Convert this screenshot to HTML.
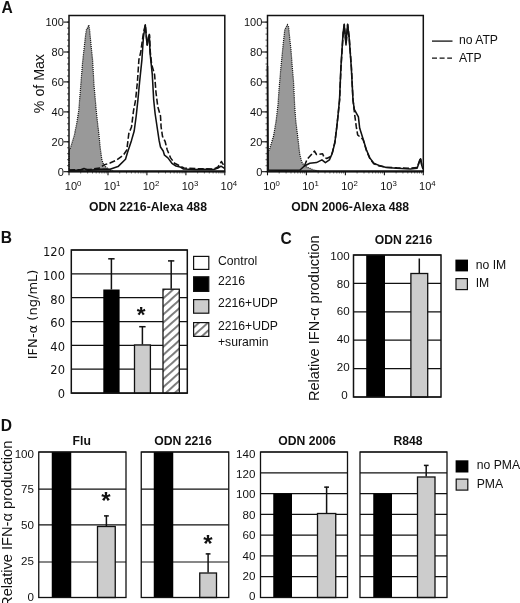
<!DOCTYPE html>
<html lang="en"><head><meta charset="utf-8"><title>Figure</title>
<style>html,body{margin:0;padding:0;background:#fff;}svg{display:block;}text{fill:#111;}</style></head><body>
<svg width="520" height="603" viewBox="0 0 520 603">
<defs><pattern id="hatch" patternUnits="userSpaceOnUse" width="6" height="6" patternTransform="rotate(-42)"><rect x="0" y="0" width="6" height="6" fill="#fff"/><rect x="0" y="0" width="6" height="1.9" fill="#777"/></pattern></defs>
<rect x="0" y="0" width="520" height="603" fill="#fff"/>
<text x="1.5" y="13" font-size="15.6" text-anchor="start" font-weight="bold" font-family='"Liberation Sans", Arial, sans-serif'>A</text>
<text x="0.8" y="243" font-size="15.6" text-anchor="start" font-weight="bold" font-family='"Liberation Sans", Arial, sans-serif'>B</text>
<text x="280.6" y="243.6" font-size="15.6" text-anchor="start" font-weight="bold" font-family='"Liberation Sans", Arial, sans-serif'>C</text>
<text x="0.8" y="430.5" font-size="15.6" text-anchor="start" font-weight="bold" font-family='"Liberation Sans", Arial, sans-serif'>D</text>
<path d="M69.0,171.5 L69.0,151.0 L70.6,147.5 L74.4,135.0 L76.9,122.5 L78.8,110.0 L82.6,62.0 L84.2,47.5 L85.6,35.0 L86.6,28.8 L87.8,27.8 L88.8,25.0 L89.6,30.0 L90.1,35.0 L91.3,47.5 L92.6,60.0 L94.0,85.0 L96.2,110.0 L97.5,122.5 L99.0,135.0 L100.2,147.5 L101.9,160.0 L103.8,165.0 L108.0,169.0 L113.8,171.5 Z" fill="#999"/>
<path d="M69.0,171.5 L69.0,151.0 L70.6,147.5 L74.4,135.0 L76.9,122.5 L78.8,110.0 L82.6,62.0 L84.2,47.5 L85.6,35.0 L86.6,28.8 L87.8,27.8 L88.8,25.0 L89.6,30.0 L90.1,35.0 L91.3,47.5 L92.6,60.0 L94.0,85.0 L96.2,110.0 L97.5,122.5 L99.0,135.0 L100.2,147.5 L101.9,160.0 L103.8,165.0 L108.0,169.0 L113.8,171.5" fill="none" stroke="#111" stroke-width="1.2" stroke-dasharray="1.1 1"/>
<path d="M69.0,170.5 L80.0,170.0 L84.0,168.5 L88.0,170.2 L98.0,169.5 L104.0,169.0 L110.0,169.3 L118.0,166.6 L125.5,159.2 L127.5,152.5 L131.5,140.4 L134.2,131.0 L136.2,116.0 L137.9,100.0 L139.6,82.0 L141.9,59.8 L143.4,37.4 L145.3,24.7 L146.2,36.0 L147.1,44.9 L148.4,38.0 L149.3,34.4 L150.0,52.3 L152.3,74.7 L153.7,100.0 L155.1,113.5 L157.1,127.0 L159.1,140.4 L160.5,147.0 L163.2,151.0 L164.5,155.2 L167.9,157.9 L171.9,163.3 L176.0,166.0 L180.0,166.9 L183.5,169.0 L195.0,169.6 L205.0,169.3 L214.4,169.4 L218.0,168.0 L221.0,166.2 L224.5,168.3" fill="none" stroke="#111" stroke-width="1.55" stroke-linejoin="round"/>
<path d="M69.0,170.0 L90.0,169.5 L100.0,168.0 L103.8,165.0 L110.0,163.0 L116.7,160.0 L123.5,155.0 L126.8,150.0 L128.8,133.6 L131.5,127.0 L133.5,110.8 L135.6,100.0 L137.4,82.0 L138.9,59.8 L140.7,52.3 L143.4,33.0 L145.3,25.0 L146.4,36.0 L147.3,45.0 L148.5,38.0 L149.5,35.0 L150.3,52.0 L151.6,64.3 L154.6,74.7 L156.0,92.6 L157.8,106.7 L160.5,116.0 L161.1,127.0 L162.5,136.3 L165.2,141.7 L167.2,149.8 L170.6,157.9 L174.6,163.3 L178.6,165.3 L184.0,168.0 L195.0,168.6 L205.0,168.8 L214.0,169.0 L218.0,167.0 L221.5,161.5 L224.5,167.0" fill="none" stroke="#111" stroke-width="1.55" stroke-dasharray="6 2.4" stroke-linejoin="round"/>
<rect x="69" y="15.5" width="155.8" height="156.2" fill="none" stroke="#111" stroke-width="1.5"/>
<line x1="69" y1="171.29999999999998" x2="224.8" y2="171.29999999999998" stroke="#111" stroke-width="1.9"/>
<line x1="63.5" y1="22.1" x2="69" y2="22.1" stroke="#111" stroke-width="1.1"/>
<text x="63.8" y="25.9" font-size="11" text-anchor="end" font-weight="normal" font-family='"Liberation Sans", Arial, sans-serif'>100</text>
<line x1="63.5" y1="52.0" x2="69" y2="52.0" stroke="#111" stroke-width="1.1"/>
<text x="63.8" y="55.8" font-size="11" text-anchor="end" font-weight="normal" font-family='"Liberation Sans", Arial, sans-serif'>80</text>
<line x1="63.5" y1="81.9" x2="69" y2="81.9" stroke="#111" stroke-width="1.1"/>
<text x="63.8" y="85.7" font-size="11" text-anchor="end" font-weight="normal" font-family='"Liberation Sans", Arial, sans-serif'>60</text>
<line x1="63.5" y1="111.9" x2="69" y2="111.9" stroke="#111" stroke-width="1.1"/>
<text x="63.8" y="115.7" font-size="11" text-anchor="end" font-weight="normal" font-family='"Liberation Sans", Arial, sans-serif'>40</text>
<line x1="63.5" y1="141.8" x2="69" y2="141.8" stroke="#111" stroke-width="1.1"/>
<text x="63.8" y="145.6" font-size="11" text-anchor="end" font-weight="normal" font-family='"Liberation Sans", Arial, sans-serif'>20</text>
<line x1="63.5" y1="171.7" x2="69" y2="171.7" stroke="#111" stroke-width="1.1"/>
<text x="63.8" y="175.5" font-size="11" text-anchor="end" font-weight="normal" font-family='"Liberation Sans", Arial, sans-serif'>0</text>
<line x1="67" y1="22.1" x2="69" y2="22.1" stroke="#111" stroke-width="0.7"/>
<line x1="67" y1="28.1" x2="69" y2="28.1" stroke="#111" stroke-width="0.7"/>
<line x1="67" y1="34.1" x2="69" y2="34.1" stroke="#111" stroke-width="0.7"/>
<line x1="67" y1="40.1" x2="69" y2="40.1" stroke="#111" stroke-width="0.7"/>
<line x1="67" y1="46.0" x2="69" y2="46.0" stroke="#111" stroke-width="0.7"/>
<line x1="67" y1="52.0" x2="69" y2="52.0" stroke="#111" stroke-width="0.7"/>
<line x1="67" y1="58.0" x2="69" y2="58.0" stroke="#111" stroke-width="0.7"/>
<line x1="67" y1="64.0" x2="69" y2="64.0" stroke="#111" stroke-width="0.7"/>
<line x1="67" y1="70.0" x2="69" y2="70.0" stroke="#111" stroke-width="0.7"/>
<line x1="67" y1="76.0" x2="69" y2="76.0" stroke="#111" stroke-width="0.7"/>
<line x1="67" y1="81.9" x2="69" y2="81.9" stroke="#111" stroke-width="0.7"/>
<line x1="67" y1="87.9" x2="69" y2="87.9" stroke="#111" stroke-width="0.7"/>
<line x1="67" y1="93.9" x2="69" y2="93.9" stroke="#111" stroke-width="0.7"/>
<line x1="67" y1="99.9" x2="69" y2="99.9" stroke="#111" stroke-width="0.7"/>
<line x1="67" y1="105.9" x2="69" y2="105.9" stroke="#111" stroke-width="0.7"/>
<line x1="67" y1="111.9" x2="69" y2="111.9" stroke="#111" stroke-width="0.7"/>
<line x1="67" y1="117.8" x2="69" y2="117.8" stroke="#111" stroke-width="0.7"/>
<line x1="67" y1="123.8" x2="69" y2="123.8" stroke="#111" stroke-width="0.7"/>
<line x1="67" y1="129.8" x2="69" y2="129.8" stroke="#111" stroke-width="0.7"/>
<line x1="67" y1="135.8" x2="69" y2="135.8" stroke="#111" stroke-width="0.7"/>
<line x1="67" y1="141.8" x2="69" y2="141.8" stroke="#111" stroke-width="0.7"/>
<line x1="67" y1="147.8" x2="69" y2="147.8" stroke="#111" stroke-width="0.7"/>
<line x1="67" y1="153.7" x2="69" y2="153.7" stroke="#111" stroke-width="0.7"/>
<line x1="67" y1="159.7" x2="69" y2="159.7" stroke="#111" stroke-width="0.7"/>
<line x1="67" y1="165.7" x2="69" y2="165.7" stroke="#111" stroke-width="0.7"/>
<line x1="67" y1="171.7" x2="69" y2="171.7" stroke="#111" stroke-width="0.7"/>
<line x1="69.0" y1="171.7" x2="69.0" y2="175.29999999999998" stroke="#111" stroke-width="1.1"/>
<text x="64.8" y="189.9" font-size="11" font-family='"Liberation Sans", Arial, sans-serif'>10<tspan dy="-4.2" font-size="7.8">0</tspan></text>
<line x1="80.7" y1="171.7" x2="80.7" y2="173.5" stroke="#111" stroke-width="0.6"/>
<line x1="87.6" y1="171.7" x2="87.6" y2="173.5" stroke="#111" stroke-width="0.6"/>
<line x1="92.5" y1="171.7" x2="92.5" y2="173.5" stroke="#111" stroke-width="0.6"/>
<line x1="96.2" y1="171.7" x2="96.2" y2="173.5" stroke="#111" stroke-width="0.6"/>
<line x1="99.3" y1="171.7" x2="99.3" y2="173.5" stroke="#111" stroke-width="0.6"/>
<line x1="101.9" y1="171.7" x2="101.9" y2="173.5" stroke="#111" stroke-width="0.6"/>
<line x1="104.2" y1="171.7" x2="104.2" y2="173.5" stroke="#111" stroke-width="0.6"/>
<line x1="106.2" y1="171.7" x2="106.2" y2="173.5" stroke="#111" stroke-width="0.6"/>
<line x1="108.0" y1="171.7" x2="108.0" y2="175.29999999999998" stroke="#111" stroke-width="1.1"/>
<text x="103.8" y="189.9" font-size="11" font-family='"Liberation Sans", Arial, sans-serif'>10<tspan dy="-4.2" font-size="7.8">1</tspan></text>
<line x1="119.7" y1="171.7" x2="119.7" y2="173.5" stroke="#111" stroke-width="0.6"/>
<line x1="126.5" y1="171.7" x2="126.5" y2="173.5" stroke="#111" stroke-width="0.6"/>
<line x1="131.4" y1="171.7" x2="131.4" y2="173.5" stroke="#111" stroke-width="0.6"/>
<line x1="135.2" y1="171.7" x2="135.2" y2="173.5" stroke="#111" stroke-width="0.6"/>
<line x1="138.3" y1="171.7" x2="138.3" y2="173.5" stroke="#111" stroke-width="0.6"/>
<line x1="140.9" y1="171.7" x2="140.9" y2="173.5" stroke="#111" stroke-width="0.6"/>
<line x1="143.1" y1="171.7" x2="143.1" y2="173.5" stroke="#111" stroke-width="0.6"/>
<line x1="145.1" y1="171.7" x2="145.1" y2="173.5" stroke="#111" stroke-width="0.6"/>
<line x1="146.9" y1="171.7" x2="146.9" y2="175.29999999999998" stroke="#111" stroke-width="1.1"/>
<text x="142.7" y="189.9" font-size="11" font-family='"Liberation Sans", Arial, sans-serif'>10<tspan dy="-4.2" font-size="7.8">2</tspan></text>
<line x1="158.6" y1="171.7" x2="158.6" y2="173.5" stroke="#111" stroke-width="0.6"/>
<line x1="165.5" y1="171.7" x2="165.5" y2="173.5" stroke="#111" stroke-width="0.6"/>
<line x1="170.4" y1="171.7" x2="170.4" y2="173.5" stroke="#111" stroke-width="0.6"/>
<line x1="174.1" y1="171.7" x2="174.1" y2="173.5" stroke="#111" stroke-width="0.6"/>
<line x1="177.2" y1="171.7" x2="177.2" y2="173.5" stroke="#111" stroke-width="0.6"/>
<line x1="179.8" y1="171.7" x2="179.8" y2="173.5" stroke="#111" stroke-width="0.6"/>
<line x1="182.1" y1="171.7" x2="182.1" y2="173.5" stroke="#111" stroke-width="0.6"/>
<line x1="184.1" y1="171.7" x2="184.1" y2="173.5" stroke="#111" stroke-width="0.6"/>
<line x1="185.9" y1="171.7" x2="185.9" y2="175.29999999999998" stroke="#111" stroke-width="1.1"/>
<text x="181.7" y="189.9" font-size="11" font-family='"Liberation Sans", Arial, sans-serif'>10<tspan dy="-4.2" font-size="7.8">3</tspan></text>
<line x1="197.6" y1="171.7" x2="197.6" y2="173.5" stroke="#111" stroke-width="0.6"/>
<line x1="204.4" y1="171.7" x2="204.4" y2="173.5" stroke="#111" stroke-width="0.6"/>
<line x1="209.3" y1="171.7" x2="209.3" y2="173.5" stroke="#111" stroke-width="0.6"/>
<line x1="213.1" y1="171.7" x2="213.1" y2="173.5" stroke="#111" stroke-width="0.6"/>
<line x1="216.2" y1="171.7" x2="216.2" y2="173.5" stroke="#111" stroke-width="0.6"/>
<line x1="218.8" y1="171.7" x2="218.8" y2="173.5" stroke="#111" stroke-width="0.6"/>
<line x1="221.0" y1="171.7" x2="221.0" y2="173.5" stroke="#111" stroke-width="0.6"/>
<line x1="223.0" y1="171.7" x2="223.0" y2="173.5" stroke="#111" stroke-width="0.6"/>
<line x1="224.8" y1="171.7" x2="224.8" y2="175.29999999999998" stroke="#111" stroke-width="1.1"/>
<text x="220.6" y="189.9" font-size="11" font-family='"Liberation Sans", Arial, sans-serif'>10<tspan dy="-4.2" font-size="7.8">4</tspan></text>
<text x="148" y="211" font-size="12.2" text-anchor="middle" font-weight="bold" font-family='"Liberation Sans", Arial, sans-serif'>ODN 2216-Alexa 488</text>
<path d="M267.5,171.5 L267.5,152.0 L269.4,149.8 L273.5,136.3 L276.2,120.2 L278.0,104.5 L279.0,89.6 L280.9,67.2 L283.4,42.0 L284.8,29.5 L286.2,27.0 L287.4,24.7 L288.6,27.0 L289.8,39.0 L291.0,50.0 L292.3,67.2 L293.6,82.2 L294.6,104.5 L295.7,120.2 L297.7,136.3 L299.7,153.8 L301.7,161.9 L304.4,166.0 L313.8,170.0 L320.0,171.5 Z" fill="#999"/>
<path d="M267.5,171.5 L267.5,152.0 L269.4,149.8 L273.5,136.3 L276.2,120.2 L278.0,104.5 L279.0,89.6 L280.9,67.2 L283.4,42.0 L284.8,29.5 L286.2,27.0 L287.4,24.7 L288.6,27.0 L289.8,39.0 L291.0,50.0 L292.3,67.2 L293.6,82.2 L294.6,104.5 L295.7,120.2 L297.7,136.3 L299.7,153.8 L301.7,161.9 L304.4,166.0 L313.8,170.0 L320.0,171.5" fill="none" stroke="#111" stroke-width="1.2" stroke-dasharray="1.1 1"/>
<path d="M267.5,66.0 L267.9,120.0 L268.2,170.0 L280.0,170.3 L300.0,170.0 L304.4,166.0 L309.8,163.3 L316.5,162.6 L321.9,159.9 L325.4,162.6 L329.4,159.9 L332.1,153.8 L334.8,143.1 L336.8,126.9 L338.2,113.5 L339.5,100.0 L340.9,67.2 L343.1,32.9 L344.2,24.3 L345.2,36.0 L346.0,44.9 L346.8,34.0 L347.6,24.3 L349.1,37.4 L351.3,67.2 L353.0,100.0 L354.3,109.4 L358.4,116.8 L359.7,128.3 L363.1,139.0 L366.4,149.8 L369.8,157.9 L373.8,163.3 L379.4,165.6 L386.2,167.6 L396.9,168.3 L410.4,168.9 L417.1,168.3 L420.5,158.8 L421.8,165.6 L423.0,169.0" fill="none" stroke="#111" stroke-width="1.55" stroke-linejoin="round"/>
<path d="M304.4,166.0 L307.1,159.2 L314.5,151.1 L316.5,154.5 L322.6,153.8 L324.0,157.2 L326.7,158.5 L330.8,156.5 L332.5,152.0 L334.9,142.0 L336.9,126.0 L338.3,113.0 L339.6,100.0 L341.0,67.0 L343.2,33.0 L344.3,24.5 L345.3,36.0 L346.1,44.0 L346.9,34.0 L347.7,24.5 L349.2,37.4 L351.4,67.2 L353.0,100.0 L354.7,114.8 L356.3,126.9 L357.7,135.0 L363.1,139.5 L366.4,150.5 L369.8,158.5 L373.8,163.8 L379.4,166.0 L386.2,167.2 L396.9,167.8 L410.4,168.2 L417.1,167.5 L420.5,158.0 L421.8,165.0 L423.0,168.5" fill="none" stroke="#111" stroke-width="1.55" stroke-dasharray="6 2.4" stroke-linejoin="round"/>
<rect x="267.5" y="15.5" width="155.8" height="156.2" fill="none" stroke="#111" stroke-width="1.5"/>
<line x1="267.5" y1="171.29999999999998" x2="423.3" y2="171.29999999999998" stroke="#111" stroke-width="1.9"/>
<line x1="262.0" y1="22.1" x2="267.5" y2="22.1" stroke="#111" stroke-width="1.1"/>
<text x="262.3" y="25.9" font-size="11" text-anchor="end" font-weight="normal" font-family='"Liberation Sans", Arial, sans-serif'>100</text>
<line x1="262.0" y1="52.0" x2="267.5" y2="52.0" stroke="#111" stroke-width="1.1"/>
<text x="262.3" y="55.8" font-size="11" text-anchor="end" font-weight="normal" font-family='"Liberation Sans", Arial, sans-serif'>80</text>
<line x1="262.0" y1="81.9" x2="267.5" y2="81.9" stroke="#111" stroke-width="1.1"/>
<text x="262.3" y="85.7" font-size="11" text-anchor="end" font-weight="normal" font-family='"Liberation Sans", Arial, sans-serif'>60</text>
<line x1="262.0" y1="111.9" x2="267.5" y2="111.9" stroke="#111" stroke-width="1.1"/>
<text x="262.3" y="115.7" font-size="11" text-anchor="end" font-weight="normal" font-family='"Liberation Sans", Arial, sans-serif'>40</text>
<line x1="262.0" y1="141.8" x2="267.5" y2="141.8" stroke="#111" stroke-width="1.1"/>
<text x="262.3" y="145.6" font-size="11" text-anchor="end" font-weight="normal" font-family='"Liberation Sans", Arial, sans-serif'>20</text>
<line x1="262.0" y1="171.7" x2="267.5" y2="171.7" stroke="#111" stroke-width="1.1"/>
<text x="262.3" y="175.5" font-size="11" text-anchor="end" font-weight="normal" font-family='"Liberation Sans", Arial, sans-serif'>0</text>
<line x1="265.5" y1="22.1" x2="267.5" y2="22.1" stroke="#111" stroke-width="0.7"/>
<line x1="265.5" y1="28.1" x2="267.5" y2="28.1" stroke="#111" stroke-width="0.7"/>
<line x1="265.5" y1="34.1" x2="267.5" y2="34.1" stroke="#111" stroke-width="0.7"/>
<line x1="265.5" y1="40.1" x2="267.5" y2="40.1" stroke="#111" stroke-width="0.7"/>
<line x1="265.5" y1="46.0" x2="267.5" y2="46.0" stroke="#111" stroke-width="0.7"/>
<line x1="265.5" y1="52.0" x2="267.5" y2="52.0" stroke="#111" stroke-width="0.7"/>
<line x1="265.5" y1="58.0" x2="267.5" y2="58.0" stroke="#111" stroke-width="0.7"/>
<line x1="265.5" y1="64.0" x2="267.5" y2="64.0" stroke="#111" stroke-width="0.7"/>
<line x1="265.5" y1="70.0" x2="267.5" y2="70.0" stroke="#111" stroke-width="0.7"/>
<line x1="265.5" y1="76.0" x2="267.5" y2="76.0" stroke="#111" stroke-width="0.7"/>
<line x1="265.5" y1="81.9" x2="267.5" y2="81.9" stroke="#111" stroke-width="0.7"/>
<line x1="265.5" y1="87.9" x2="267.5" y2="87.9" stroke="#111" stroke-width="0.7"/>
<line x1="265.5" y1="93.9" x2="267.5" y2="93.9" stroke="#111" stroke-width="0.7"/>
<line x1="265.5" y1="99.9" x2="267.5" y2="99.9" stroke="#111" stroke-width="0.7"/>
<line x1="265.5" y1="105.9" x2="267.5" y2="105.9" stroke="#111" stroke-width="0.7"/>
<line x1="265.5" y1="111.9" x2="267.5" y2="111.9" stroke="#111" stroke-width="0.7"/>
<line x1="265.5" y1="117.8" x2="267.5" y2="117.8" stroke="#111" stroke-width="0.7"/>
<line x1="265.5" y1="123.8" x2="267.5" y2="123.8" stroke="#111" stroke-width="0.7"/>
<line x1="265.5" y1="129.8" x2="267.5" y2="129.8" stroke="#111" stroke-width="0.7"/>
<line x1="265.5" y1="135.8" x2="267.5" y2="135.8" stroke="#111" stroke-width="0.7"/>
<line x1="265.5" y1="141.8" x2="267.5" y2="141.8" stroke="#111" stroke-width="0.7"/>
<line x1="265.5" y1="147.8" x2="267.5" y2="147.8" stroke="#111" stroke-width="0.7"/>
<line x1="265.5" y1="153.7" x2="267.5" y2="153.7" stroke="#111" stroke-width="0.7"/>
<line x1="265.5" y1="159.7" x2="267.5" y2="159.7" stroke="#111" stroke-width="0.7"/>
<line x1="265.5" y1="165.7" x2="267.5" y2="165.7" stroke="#111" stroke-width="0.7"/>
<line x1="265.5" y1="171.7" x2="267.5" y2="171.7" stroke="#111" stroke-width="0.7"/>
<line x1="267.5" y1="171.7" x2="267.5" y2="175.29999999999998" stroke="#111" stroke-width="1.1"/>
<text x="263.3" y="189.9" font-size="11" font-family='"Liberation Sans", Arial, sans-serif'>10<tspan dy="-4.2" font-size="7.8">0</tspan></text>
<line x1="279.2" y1="171.7" x2="279.2" y2="173.5" stroke="#111" stroke-width="0.6"/>
<line x1="286.1" y1="171.7" x2="286.1" y2="173.5" stroke="#111" stroke-width="0.6"/>
<line x1="291.0" y1="171.7" x2="291.0" y2="173.5" stroke="#111" stroke-width="0.6"/>
<line x1="294.7" y1="171.7" x2="294.7" y2="173.5" stroke="#111" stroke-width="0.6"/>
<line x1="297.8" y1="171.7" x2="297.8" y2="173.5" stroke="#111" stroke-width="0.6"/>
<line x1="300.4" y1="171.7" x2="300.4" y2="173.5" stroke="#111" stroke-width="0.6"/>
<line x1="302.7" y1="171.7" x2="302.7" y2="173.5" stroke="#111" stroke-width="0.6"/>
<line x1="304.7" y1="171.7" x2="304.7" y2="173.5" stroke="#111" stroke-width="0.6"/>
<line x1="306.4" y1="171.7" x2="306.4" y2="175.29999999999998" stroke="#111" stroke-width="1.1"/>
<text x="302.2" y="189.9" font-size="11" font-family='"Liberation Sans", Arial, sans-serif'>10<tspan dy="-4.2" font-size="7.8">1</tspan></text>
<line x1="318.2" y1="171.7" x2="318.2" y2="173.5" stroke="#111" stroke-width="0.6"/>
<line x1="325.0" y1="171.7" x2="325.0" y2="173.5" stroke="#111" stroke-width="0.6"/>
<line x1="329.9" y1="171.7" x2="329.9" y2="173.5" stroke="#111" stroke-width="0.6"/>
<line x1="333.7" y1="171.7" x2="333.7" y2="173.5" stroke="#111" stroke-width="0.6"/>
<line x1="336.8" y1="171.7" x2="336.8" y2="173.5" stroke="#111" stroke-width="0.6"/>
<line x1="339.4" y1="171.7" x2="339.4" y2="173.5" stroke="#111" stroke-width="0.6"/>
<line x1="341.6" y1="171.7" x2="341.6" y2="173.5" stroke="#111" stroke-width="0.6"/>
<line x1="343.6" y1="171.7" x2="343.6" y2="173.5" stroke="#111" stroke-width="0.6"/>
<line x1="345.4" y1="171.7" x2="345.4" y2="175.29999999999998" stroke="#111" stroke-width="1.1"/>
<text x="341.2" y="189.9" font-size="11" font-family='"Liberation Sans", Arial, sans-serif'>10<tspan dy="-4.2" font-size="7.8">2</tspan></text>
<line x1="357.1" y1="171.7" x2="357.1" y2="173.5" stroke="#111" stroke-width="0.6"/>
<line x1="364.0" y1="171.7" x2="364.0" y2="173.5" stroke="#111" stroke-width="0.6"/>
<line x1="368.9" y1="171.7" x2="368.9" y2="173.5" stroke="#111" stroke-width="0.6"/>
<line x1="372.6" y1="171.7" x2="372.6" y2="173.5" stroke="#111" stroke-width="0.6"/>
<line x1="375.7" y1="171.7" x2="375.7" y2="173.5" stroke="#111" stroke-width="0.6"/>
<line x1="378.3" y1="171.7" x2="378.3" y2="173.5" stroke="#111" stroke-width="0.6"/>
<line x1="380.6" y1="171.7" x2="380.6" y2="173.5" stroke="#111" stroke-width="0.6"/>
<line x1="382.6" y1="171.7" x2="382.6" y2="173.5" stroke="#111" stroke-width="0.6"/>
<line x1="384.4" y1="171.7" x2="384.4" y2="175.29999999999998" stroke="#111" stroke-width="1.1"/>
<text x="380.2" y="189.9" font-size="11" font-family='"Liberation Sans", Arial, sans-serif'>10<tspan dy="-4.2" font-size="7.8">3</tspan></text>
<line x1="396.1" y1="171.7" x2="396.1" y2="173.5" stroke="#111" stroke-width="0.6"/>
<line x1="402.9" y1="171.7" x2="402.9" y2="173.5" stroke="#111" stroke-width="0.6"/>
<line x1="407.8" y1="171.7" x2="407.8" y2="173.5" stroke="#111" stroke-width="0.6"/>
<line x1="411.6" y1="171.7" x2="411.6" y2="173.5" stroke="#111" stroke-width="0.6"/>
<line x1="414.7" y1="171.7" x2="414.7" y2="173.5" stroke="#111" stroke-width="0.6"/>
<line x1="417.3" y1="171.7" x2="417.3" y2="173.5" stroke="#111" stroke-width="0.6"/>
<line x1="419.5" y1="171.7" x2="419.5" y2="173.5" stroke="#111" stroke-width="0.6"/>
<line x1="421.5" y1="171.7" x2="421.5" y2="173.5" stroke="#111" stroke-width="0.6"/>
<line x1="423.3" y1="171.7" x2="423.3" y2="175.29999999999998" stroke="#111" stroke-width="1.1"/>
<text x="419.1" y="189.9" font-size="11" font-family='"Liberation Sans", Arial, sans-serif'>10<tspan dy="-4.2" font-size="7.8">4</tspan></text>
<text x="350.2" y="211" font-size="12.2" text-anchor="middle" font-weight="bold" font-family='"Liberation Sans", Arial, sans-serif'>ODN 2006-Alexa 488</text>
<text x="44.5" y="83.6" font-size="14.2" text-anchor="middle" font-weight="normal" font-family='"Liberation Sans", Arial, sans-serif' transform="rotate(-90 44.5 83.6)">% of Max</text>
<line x1="432" y1="41.1" x2="452.5" y2="41.1" stroke="#111" stroke-width="1.3"/>
<line x1="432" y1="58.2" x2="452" y2="58.2" stroke="#111" stroke-width="1.3" stroke-dasharray="5 2.6"/>
<text x="458.9" y="43.8" font-size="12.2" text-anchor="start" font-weight="normal" font-family='"Liberation Sans", Arial, sans-serif'>no ATP</text>
<text x="458.9" y="62" font-size="12.2" text-anchor="start" font-weight="normal" font-family='"Liberation Sans", Arial, sans-serif'>ATP</text>
<line x1="71.3" y1="250.0" x2="187.3" y2="250.0" stroke="#111" stroke-width="1.2"/>
<line x1="71.3" y1="273.9" x2="187.3" y2="273.9" stroke="#111" stroke-width="1.2"/>
<line x1="71.3" y1="297.7" x2="187.3" y2="297.7" stroke="#111" stroke-width="1.2"/>
<line x1="71.3" y1="321.6" x2="187.3" y2="321.6" stroke="#111" stroke-width="1.2"/>
<line x1="71.3" y1="345.4" x2="187.3" y2="345.4" stroke="#111" stroke-width="1.2"/>
<line x1="71.3" y1="369.2" x2="187.3" y2="369.2" stroke="#111" stroke-width="1.2"/>
<line x1="71.3" y1="393.1" x2="187.3" y2="393.1" stroke="#111" stroke-width="1.2"/>
<line x1="111.4" y1="258.4" x2="111.4" y2="289.5" stroke="#111" stroke-width="1.5"/>
<line x1="108.2" y1="258.79999999999995" x2="114.6" y2="258.79999999999995" stroke="#111" stroke-width="1.5"/>
<rect x="103.3" y="289.5" width="16.30" height="103.60" fill="#000"/>
<line x1="142.4" y1="326.3" x2="142.4" y2="344.5" stroke="#111" stroke-width="1.5"/>
<line x1="139.2" y1="326.7" x2="145.6" y2="326.7" stroke="#111" stroke-width="1.5"/>
<rect x="134.5" y="345.0" width="15.90" height="48.10" fill="#ccc" stroke="#111" stroke-width="1.3"/>
<line x1="171.2" y1="260.5" x2="171.2" y2="288.7" stroke="#111" stroke-width="1.5"/>
<line x1="168.0" y1="260.9" x2="174.3" y2="260.9" stroke="#111" stroke-width="1.5"/>
<rect x="163.0" y="289.2" width="16.30" height="103.90" fill="url(#hatch)" stroke="#111" stroke-width="1.3"/>
<rect x="71.3" y="250" width="116.00000000000001" height="143.10000000000002" fill="none" stroke="#111" stroke-width="1.5"/>
<text x="65" y="256.4" font-size="11.5" text-anchor="end" font-weight="normal" font-family='"DejaVu Sans", Verdana, sans-serif'>120</text>
<text x="65" y="280.0" font-size="11.5" text-anchor="end" font-weight="normal" font-family='"DejaVu Sans", Verdana, sans-serif'>100</text>
<text x="65" y="303.6" font-size="11.5" text-anchor="end" font-weight="normal" font-family='"DejaVu Sans", Verdana, sans-serif'>80</text>
<text x="65" y="327.2" font-size="11.5" text-anchor="end" font-weight="normal" font-family='"DejaVu Sans", Verdana, sans-serif'>60</text>
<text x="65" y="350.8" font-size="11.5" text-anchor="end" font-weight="normal" font-family='"DejaVu Sans", Verdana, sans-serif'>40</text>
<text x="65" y="374.4" font-size="11.5" text-anchor="end" font-weight="normal" font-family='"DejaVu Sans", Verdana, sans-serif'>20</text>
<text x="65" y="398.0" font-size="11.5" text-anchor="end" font-weight="normal" font-family='"DejaVu Sans", Verdana, sans-serif'>0</text>
<text x="37.2" y="314.4" font-size="13.1" text-anchor="middle" font-family='"DejaVu Sans", Verdana, sans-serif' transform="rotate(-90 37.2 314.4)" textLength="89.7" lengthAdjust="spacingAndGlyphs">IFN-α (ng/mL)</text>
<text x="141.2" y="322.1" font-size="22.5" text-anchor="middle" font-weight="bold" font-family='"Liberation Sans", Arial, sans-serif'>*</text>
<rect x="193.6" y="256.40000000000003" width="15.2" height="13.0" fill="#fff" stroke="#111" stroke-width="1.2"/>
<rect x="193.6" y="276.8" width="15.2" height="14.6" fill="#000" stroke="#111" stroke-width="1.2"/>
<rect x="193.6" y="299.6" width="15.2" height="13.6" fill="#ccc" stroke="#111" stroke-width="1.2"/>
<rect x="193.6" y="322.6" width="15.2" height="13.8" fill="url(#hatch)" stroke="#111" stroke-width="1.2"/>
<text x="218" y="264.6" font-size="12.2" text-anchor="start" font-weight="normal" font-family='"Liberation Sans", Arial, sans-serif'>Control</text>
<text x="218" y="285.2" font-size="12.2" text-anchor="start" font-weight="normal" font-family='"Liberation Sans", Arial, sans-serif'>2216</text>
<text x="218" y="307.4" font-size="12.2" text-anchor="start" font-weight="normal" font-family='"Liberation Sans", Arial, sans-serif'>2216+UDP</text>
<text x="218" y="330.4" font-size="12.2" text-anchor="start" font-weight="normal" font-family='"Liberation Sans", Arial, sans-serif'>2216+UDP</text>
<text x="218" y="345.6" font-size="12.2" text-anchor="start" font-weight="normal" font-family='"Liberation Sans", Arial, sans-serif'>+suramin</text>
<line x1="353.5" y1="255.0" x2="441" y2="255.0" stroke="#111" stroke-width="1.2"/>
<line x1="353.5" y1="283.4" x2="441" y2="283.4" stroke="#111" stroke-width="1.2"/>
<line x1="353.5" y1="311.8" x2="441" y2="311.8" stroke="#111" stroke-width="1.2"/>
<line x1="353.5" y1="340.2" x2="441" y2="340.2" stroke="#111" stroke-width="1.2"/>
<line x1="353.5" y1="368.6" x2="441" y2="368.6" stroke="#111" stroke-width="1.2"/>
<line x1="353.5" y1="397.0" x2="441" y2="397.0" stroke="#111" stroke-width="1.2"/>
<rect x="366.2" y="255" width="18.80" height="142.00" fill="#000"/>
<line x1="419.3" y1="258.5" x2="419.3" y2="273" stroke="#111" stroke-width="1.5"/>
<rect x="410.9" y="273.5" width="16.80" height="123.50" fill="#ccc" stroke="#111" stroke-width="1.3"/>
<rect x="353.5" y="255" width="87.5" height="142" fill="none" stroke="#111" stroke-width="1.5"/>
<text x="349.6" y="259.8" font-size="11.6" text-anchor="end" font-weight="normal" font-family='"Liberation Sans", Arial, sans-serif'>100</text>
<text x="349.6" y="287.6" font-size="11.6" text-anchor="end" font-weight="normal" font-family='"Liberation Sans", Arial, sans-serif'>80</text>
<text x="349.6" y="315.4" font-size="11.6" text-anchor="end" font-weight="normal" font-family='"Liberation Sans", Arial, sans-serif'>60</text>
<text x="349.6" y="343.2" font-size="11.6" text-anchor="end" font-weight="normal" font-family='"Liberation Sans", Arial, sans-serif'>40</text>
<text x="349.6" y="371.0" font-size="11.6" text-anchor="end" font-weight="normal" font-family='"Liberation Sans", Arial, sans-serif'>20</text>
<text x="347.6" y="398.8" font-size="11.6" text-anchor="end" font-weight="normal" font-family='"Liberation Sans", Arial, sans-serif'>0</text>
<text x="403.6" y="244" font-size="12.2" text-anchor="middle" font-weight="bold" font-family='"Liberation Sans", Arial, sans-serif'>ODN 2216</text>
<text x="319" y="318.2" font-size="14.6" text-anchor="middle" font-weight="normal" font-family='"Liberation Sans", Arial, sans-serif' transform="rotate(-90 319 318.2)">Relative IFN-α production</text>
<rect x="455.4" y="259.6" width="12.6" height="11.8" fill="#000"/>
<rect x="456" y="278.6" width="11.4" height="11" fill="#ccc" stroke="#111" stroke-width="1.2"/>
<text x="475.7" y="268.8" font-size="12.2" text-anchor="start" font-weight="normal" font-family='"Liberation Sans", Arial, sans-serif'>no IM</text>
<text x="475.7" y="287.3" font-size="12.2" text-anchor="start" font-weight="normal" font-family='"Liberation Sans", Arial, sans-serif'>IM</text>
<line x1="38.75" y1="452.0" x2="126" y2="452.0" stroke="#111" stroke-width="1.2"/>
<line x1="38.75" y1="489.2" x2="126" y2="489.2" stroke="#111" stroke-width="1.2"/>
<line x1="38.75" y1="524.9" x2="126" y2="524.9" stroke="#111" stroke-width="1.2"/>
<line x1="38.75" y1="562.0" x2="126" y2="562.0" stroke="#111" stroke-width="1.2"/>
<line x1="38.75" y1="597.5" x2="126" y2="597.5" stroke="#111" stroke-width="1.2"/>
<rect x="51.75" y="452" width="19.50" height="145.50" fill="#000"/>
<line x1="106.4" y1="515.5" x2="106.4" y2="526" stroke="#111" stroke-width="1.5"/>
<line x1="104.0" y1="515.9" x2="108.8" y2="515.9" stroke="#111" stroke-width="1.5"/>
<rect x="97.5" y="526.5" width="17.75" height="71.00" fill="#ccc" stroke="#111" stroke-width="1.3"/>
<rect x="38.75" y="452" width="87.25" height="145.5" fill="none" stroke="#111" stroke-width="1.3"/>
<line x1="141.25" y1="452.0" x2="228.75" y2="452.0" stroke="#111" stroke-width="1.2"/>
<line x1="141.25" y1="489.2" x2="228.75" y2="489.2" stroke="#111" stroke-width="1.2"/>
<line x1="141.25" y1="524.9" x2="228.75" y2="524.9" stroke="#111" stroke-width="1.2"/>
<line x1="141.25" y1="562.0" x2="228.75" y2="562.0" stroke="#111" stroke-width="1.2"/>
<line x1="141.25" y1="597.5" x2="228.75" y2="597.5" stroke="#111" stroke-width="1.2"/>
<rect x="153.75" y="452" width="19.50" height="145.50" fill="#000"/>
<line x1="208.1" y1="553.5" x2="208.1" y2="572.5" stroke="#111" stroke-width="1.5"/>
<line x1="205.7" y1="553.9" x2="210.5" y2="553.9" stroke="#111" stroke-width="1.5"/>
<rect x="199.75" y="573.0" width="16.75" height="24.50" fill="#ccc" stroke="#111" stroke-width="1.3"/>
<rect x="141.25" y="452" width="87.5" height="145.5" fill="none" stroke="#111" stroke-width="1.3"/>
<line x1="260.5" y1="452.0" x2="347.5" y2="452.0" stroke="#111" stroke-width="1.2"/>
<line x1="260.5" y1="472.8" x2="347.5" y2="472.8" stroke="#111" stroke-width="1.2"/>
<line x1="260.5" y1="493.6" x2="347.5" y2="493.6" stroke="#111" stroke-width="1.2"/>
<line x1="260.5" y1="514.4" x2="347.5" y2="514.4" stroke="#111" stroke-width="1.2"/>
<line x1="260.5" y1="535.1" x2="347.5" y2="535.1" stroke="#111" stroke-width="1.2"/>
<line x1="260.5" y1="555.9" x2="347.5" y2="555.9" stroke="#111" stroke-width="1.2"/>
<line x1="260.5" y1="576.7" x2="347.5" y2="576.7" stroke="#111" stroke-width="1.2"/>
<line x1="260.5" y1="597.5" x2="347.5" y2="597.5" stroke="#111" stroke-width="1.2"/>
<rect x="273.25" y="493.5" width="18.75" height="104.00" fill="#000"/>
<line x1="326.6" y1="486.75" x2="326.6" y2="513" stroke="#111" stroke-width="1.5"/>
<line x1="324.2" y1="487.15" x2="329.0" y2="487.15" stroke="#111" stroke-width="1.5"/>
<rect x="317.5" y="513.5" width="18.25" height="84.00" fill="#ccc" stroke="#111" stroke-width="1.3"/>
<rect x="260.5" y="452" width="87.0" height="145.5" fill="none" stroke="#111" stroke-width="1.3"/>
<line x1="360" y1="452.0" x2="447" y2="452.0" stroke="#111" stroke-width="1.2"/>
<line x1="360" y1="472.8" x2="447" y2="472.8" stroke="#111" stroke-width="1.2"/>
<line x1="360" y1="493.6" x2="447" y2="493.6" stroke="#111" stroke-width="1.2"/>
<line x1="360" y1="514.4" x2="447" y2="514.4" stroke="#111" stroke-width="1.2"/>
<line x1="360" y1="535.1" x2="447" y2="535.1" stroke="#111" stroke-width="1.2"/>
<line x1="360" y1="555.9" x2="447" y2="555.9" stroke="#111" stroke-width="1.2"/>
<line x1="360" y1="576.7" x2="447" y2="576.7" stroke="#111" stroke-width="1.2"/>
<line x1="360" y1="597.5" x2="447" y2="597.5" stroke="#111" stroke-width="1.2"/>
<rect x="373.25" y="493.5" width="18.75" height="104.00" fill="#000"/>
<line x1="426.2" y1="465" x2="426.2" y2="476.5" stroke="#111" stroke-width="1.5"/>
<line x1="423.9" y1="465.4" x2="428.6" y2="465.4" stroke="#111" stroke-width="1.5"/>
<rect x="417.5" y="477.0" width="17.50" height="120.50" fill="#ccc" stroke="#111" stroke-width="1.3"/>
<rect x="360" y="452" width="87" height="145.5" fill="none" stroke="#111" stroke-width="1.3"/>
<text x="34" y="457.6" font-size="11.6" text-anchor="end" font-weight="normal" font-family='"Liberation Sans", Arial, sans-serif'>100</text>
<text x="34" y="493.4" font-size="11.6" text-anchor="end" font-weight="normal" font-family='"Liberation Sans", Arial, sans-serif'>75</text>
<text x="34" y="529.1" font-size="11.6" text-anchor="end" font-weight="normal" font-family='"Liberation Sans", Arial, sans-serif'>50</text>
<text x="34" y="564.9" font-size="11.6" text-anchor="end" font-weight="normal" font-family='"Liberation Sans", Arial, sans-serif'>25</text>
<text x="34" y="600.6" font-size="11.6" text-anchor="end" font-weight="normal" font-family='"Liberation Sans", Arial, sans-serif'>0</text>
<text x="255.4" y="457.6" font-size="11.6" text-anchor="end" font-weight="normal" font-family='"Liberation Sans", Arial, sans-serif'>140</text>
<text x="255.4" y="478.0" font-size="11.6" text-anchor="end" font-weight="normal" font-family='"Liberation Sans", Arial, sans-serif'>120</text>
<text x="255.4" y="498.3" font-size="11.6" text-anchor="end" font-weight="normal" font-family='"Liberation Sans", Arial, sans-serif'>100</text>
<text x="255.4" y="518.7" font-size="11.6" text-anchor="end" font-weight="normal" font-family='"Liberation Sans", Arial, sans-serif'>80</text>
<text x="255.4" y="539.1" font-size="11.6" text-anchor="end" font-weight="normal" font-family='"Liberation Sans", Arial, sans-serif'>60</text>
<text x="255.4" y="559.5" font-size="11.6" text-anchor="end" font-weight="normal" font-family='"Liberation Sans", Arial, sans-serif'>40</text>
<text x="255.4" y="579.8" font-size="11.6" text-anchor="end" font-weight="normal" font-family='"Liberation Sans", Arial, sans-serif'>20</text>
<text x="255.4" y="600.2" font-size="11.6" text-anchor="end" font-weight="normal" font-family='"Liberation Sans", Arial, sans-serif'>0</text>
<text x="81.75" y="445" font-size="12.2" text-anchor="middle" font-weight="bold" font-family='"Liberation Sans", Arial, sans-serif'>Flu</text>
<text x="183" y="445" font-size="12.2" text-anchor="middle" font-weight="bold" font-family='"Liberation Sans", Arial, sans-serif'>ODN 2216</text>
<text x="307" y="445" font-size="12.2" text-anchor="middle" font-weight="bold" font-family='"Liberation Sans", Arial, sans-serif'>ODN 2006</text>
<text x="408" y="445" font-size="12.2" text-anchor="middle" font-weight="bold" font-family='"Liberation Sans", Arial, sans-serif'>R848</text>
<text x="11.9" y="440.6" font-size="14.65" text-anchor="end" font-weight="normal" font-family='"Liberation Sans", Arial, sans-serif' transform="rotate(-90 11.9 440.6)">Relative IFN-α production</text>
<text x="105.8" y="509" font-size="24" text-anchor="middle" font-weight="bold" font-family='"Liberation Sans", Arial, sans-serif'>*</text>
<text x="207.8" y="552.2" font-size="24" text-anchor="middle" font-weight="bold" font-family='"Liberation Sans", Arial, sans-serif'>*</text>
<rect x="455.6" y="460.3" width="12.8" height="12.2" fill="#000"/>
<rect x="456.2" y="479.1" width="11.6" height="11" fill="#ccc" stroke="#111" stroke-width="1.2"/>
<text x="476.7" y="469" font-size="12.2" text-anchor="start" font-weight="normal" font-family='"Liberation Sans", Arial, sans-serif'>no PMA</text>
<text x="476.7" y="487.5" font-size="12.2" text-anchor="start" font-weight="normal" font-family='"Liberation Sans", Arial, sans-serif'>PMA</text>
</svg></body></html>
